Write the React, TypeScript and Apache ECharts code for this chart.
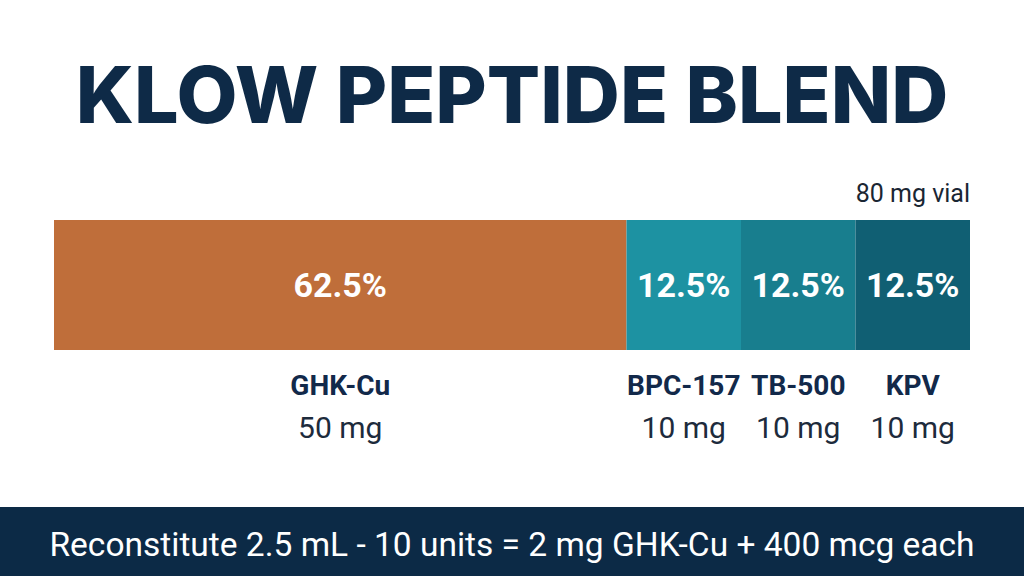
import React, { useEffect, useRef } from "react";
import * as echarts from "echarts";

const names = ["GHK-Cu", "BPC-157", "TB-500", "KPV"];
const mg = [50, 10, 10, 10];
const colors = ["#BF6E3A", "#1D92A2", "#187E8E", "#105F73"];
const title = "KLOW PEPTIDE BLEND";
const vialLabel = "80 mg vial";
const footer = "Reconstitute 2.5 mL - 10 units = 2 mg GHK-Cu + 400 mcg each";
const rows = ["labels", "bar"];

export default function App() {
  const ref = useRef<HTMLDivElement>(null);
  useEffect(() => {
    document.body.style.margin = "0";
    const chart = echarts.init(ref.current!, null, { renderer: "svg" });
    const total = mg.reduce((a, b) => a + b, 0);
    const series = names.map((n, i) => ({
      type: "bar",
      stack: "s",
      name: n,
      barWidth: "100%",
      barGap: "0%",
      data: [
        {
          value: mg[i],
          itemStyle: { color: "rgba(0,0,0,0)" },
          label: {
            show: true,
            position: "insideTop",
            distance: 14,
            formatter: `{n|${n}}\n{m|${mg[i]} mg}`,
            rich: {
              n: { fontFamily: "Roboto", fontWeight: "bold", fontSize: 28, color: "#12294A", lineHeight: 42 },
              m: { fontFamily: "Roboto", fontSize: 30, color: "#1D2B3C", lineHeight: 42 },
            },
          },
        },
        {
          value: mg[i],
          itemStyle: { color: colors[i] },
          label: {
            show: true,
            position: "inside",
            formatter: ((mg[i] / total) * 100).toFixed(1) + "%",
            fontFamily: "Roboto",
            fontWeight: "bold",
            fontSize: 34,
            color: "#FFFFFF",
          },
        },
      ],
    }));
    chart.setOption({
      animation: false,
      backgroundColor: "#FFFFFF",
      grid: { left: 54, right: 54, top: 220, bottom: 96 },
      xAxis: { type: "value", min: 0, max: total, show: false },
      yAxis: { type: "category", data: rows, show: false },
      series,
      graphic: [
        {
          type: "text",
          left: "center",
          top: 54,
          style: { text: title, fontFamily: "Inter", fontWeight: 800, fontSize: 79, fill: "#0E2A47" },
        },
        {
          type: "text",
          right: 54,
          top: 181,
          style: { text: vialLabel, fontFamily: "Roboto", fontSize: 25, fill: "#1A2633" },
        },
        {
          type: "rect",
          shape: { x: 0, y: 507, width: 1024, height: 69 },
          style: { fill: "#0C2A46" },
        },
        {
          type: "text",
          left: "center",
          top: 527,
          style: { text: footer, fontFamily: "Roboto", fontSize: 33.5, fill: "#FFFFFF" },
        },
      ],
    });
    return () => chart.dispose();
  }, []);
  return <div ref={ref} style={{ width: 1024, height: 576 }} />;
}
